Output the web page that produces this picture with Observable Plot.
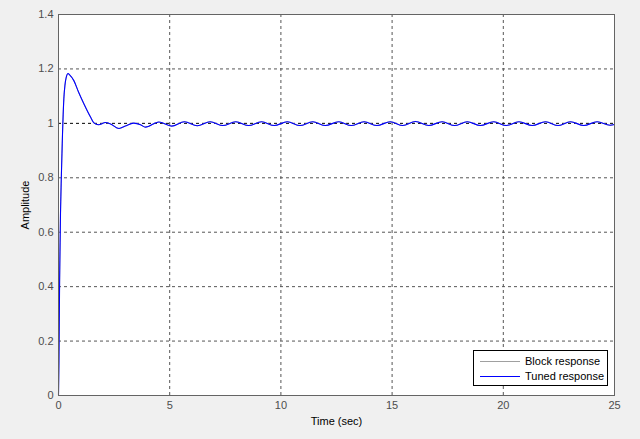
<!DOCTYPE html>
<html>
<head>
<meta charset="utf-8">
<script src="https://cdn.jsdelivr.net/npm/d3@7"></script>
<script src="https://cdn.jsdelivr.net/npm/@observablehq/plot@0.6"></script>
<style>
  html, body { margin: 0; padding: 0; background: #f0f0f0; }
  #wrap { position: relative; width: 640px; height: 439px; overflow: hidden; }
  #legend { position: absolute; left: 473px; top: 350px; width: 135px; height: 36px;
    background: #fff; border: 1px solid #000; box-sizing: border-box;
    font: 11px "Liberation Sans", Arial, sans-serif; color: #000; }
  .row { position: absolute; left: 0; height: 14px; line-height: 14px; }
  .sw { position: absolute; left: 6px; top: 7px; width: 40px; height: 0; border-top: 1px solid; }
  .lb { position: absolute; left: 51px; top: 0; white-space: nowrap; }
</style>
</head>
<body>
<div id="wrap"></div>
<script>
// Time samples (sec) and amplitude readings of the tuned step response
const time = [0, 0.02, 0.05, 0.09, 0.13, 0.18, 0.24, 0.29, 0.35, 0.43, 0.5, 0.69, 0.9, 1.14, 1.44, 1.59, 1.8, 2.11, 2.34, 2.72, 3.0, 3.38, 3.69, 3.91,
  4.51, 5.09, 5.66, 6.24, 6.82, 7.39, 7.97, 8.55, 9.13, 9.7, 10.29, 10.86, 11.43, 12.0, 12.6, 13.16, 13.74, 14.32, 14.92, 15.48,
  16.05, 16.65, 17.25, 17.81, 18.38, 18.97, 19.57, 20.13, 20.7, 21.3, 21.9, 22.46, 23.02, 23.62, 24.22, 24.8, 25.0];
const tuned = [0, 0.13, 0.42, 0.67, 0.81, 0.96, 1.09, 1.14, 1.17, 1.183, 1.178, 1.157, 1.115, 1.072, 1.023, 1.002, 0.995, 1.003, 0.998, 0.981, 0.99, 1.001, 0.995, 0.986,
  1.005, 0.99, 1.006, 0.991, 1.006, 0.992, 1.006, 0.992, 1.006, 0.992, 1.006, 0.992, 1.006, 0.992, 1.006, 0.992, 1.006, 0.992, 1.006, 0.992,
  1.007, 0.992, 1.006, 0.992, 1.006, 0.992, 1.006, 0.992, 1.006, 0.992, 1.006, 0.992, 1.006, 0.992, 1.006, 0.993, 0.996];
// Block response coincides with the tuned response (drawn underneath)
const block = tuned.slice();
const xTicks = [0, 5, 10, 15, 20, 25];
const yTicks = [0, 0.2, 0.4, 0.6, 0.8, 1, 1.2, 1.4];
const seriesNames = ["Block response", "Tuned response"];
const seriesColors = ["#a0a0a0", "#0000ff"];
const steadyState = [1];

const blockData = time.map((t, i) => ({t, v: block[i]}));
const tunedData = time.map((t, i) => ({t, v: tuned[i]}));

const chart = Plot.plot({
  width: 640,
  height: 439,
  marginLeft: 58,
  marginRight: 26,
  marginTop: 14,
  marginBottom: 44,
  style: {background: "#f0f0f0", fontFamily: "'Liberation Sans', Arial, sans-serif", fontSize: "11px"},
  x: {domain: [0, 25]},
  y: {domain: [0, 1.4]},
  marks: [
    Plot.frame({fill: "white"}),
    Plot.gridX(xTicks, {stroke: "#555", strokeOpacity: 1, strokeDasharray: "3,3"}),
    Plot.gridY(yTicks.filter(d => d !== 1), {stroke: "#555", strokeOpacity: 1, strokeDasharray: "3,3"}),
    Plot.ruleY(steadyState, {stroke: "#000", strokeDasharray: "3,3"}),
    Plot.axisX(xTicks, {tickSize: 0, tickPadding: 6, fill: "#4d4d4d", label: null}),
    Plot.axisY(yTicks, {tickSize: 0, tickPadding: 5, fill: "#4d4d4d", label: null, tickFormat: d => String(d)}),
    Plot.text(["Time (sec)"], {frameAnchor: "bottom", dy: 29, fill: "#000"}),
    Plot.text(["Amplitude"], {frameAnchor: "left", dx: -33, rotate: -90, textAnchor: "middle", fill: "#000"}),
    Plot.line(blockData, {x: "t", y: "v", stroke: seriesColors[0], strokeWidth: 1, curve: "monotone-x"}),
    Plot.line(tunedData, {x: "t", y: "v", stroke: seriesColors[1], strokeWidth: 1.1, curve: "monotone-x"}),
    Plot.frame({stroke: "#646464"})
  ]
});

const wrap = document.getElementById("wrap");
wrap.appendChild(chart);
const legend = document.createElement("div");
legend.id = "legend";
seriesNames.forEach((name, i) => {
  const row = document.createElement("div");
  row.className = "row";
  row.style.top = (3 + i * 15) + "px";
  row.style.width = "100%";
  row.innerHTML = `<span class="sw" style="border-color:${seriesColors[i]}"></span><span class="lb">${name}</span>`;
  legend.appendChild(row);
});
wrap.appendChild(legend);
</script>
</body>
</html>
